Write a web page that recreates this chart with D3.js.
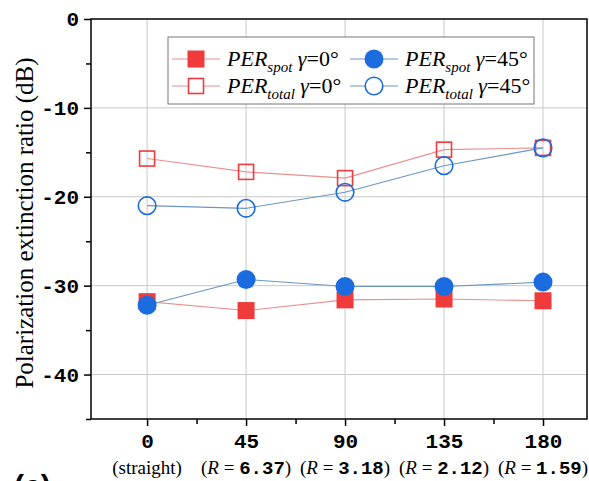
<!DOCTYPE html>
<html>
<head>
<meta charset="utf-8">
<script src="https://cdn.jsdelivr.net/npm/d3@7"></script>
<style>
body { margin: 0; background: #fff; }
svg { display: block; }
</style>
</head>
<body>
<svg id="chart"></svg>
<script>
// angle values on the x axis
var angles = [0, 45, 90, 135, 180];
var bendLabels = ["(straight)", "6.37", "3.18", "2.12", "1.59"];
var yTicks = [0, -10, -20, -30, -40];

// PER values (dB)
var spot0 = [-31.8, -32.8, -31.6, -31.5, -31.7];
var spot45 = [-32.2, -29.3, -30.1, -30.1, -29.6];
var total0 = [-15.7, -17.2, -17.9, -14.7, -14.5];
var total45 = [-21.0, -21.3, -19.5, -16.5, -14.5];

var width = 589, height = 481;
var mLeft = 91, mRight = 587, mTop = 19, mBottom = 419;

var red = "#ef3b3b", blue = "#1b6ddf";
var redLine = "#e99090", blueLine = "#6a96c4";

var svg = d3.select("#chart").attr("width", width).attr("height", height);

var x = d3.scaleLinear().domain([-25.5, 200]).range([mLeft, mRight]);
var y = d3.scaleLinear().domain([-45, 0]).range([mBottom, mTop]);

// grid
svg.append("g").selectAll("line").data(angles).enter().append("line")
    .attr("x1", function (d) { return x(d); }).attr("x2", function (d) { return x(d); })
    .attr("y1", mTop).attr("y2", mBottom)
    .attr("stroke", "#c8c8c8").attr("stroke-width", 1);
svg.append("g").selectAll("line").data([-10, -20, -30, -40]).enter().append("line")
    .attr("x1", mLeft).attr("x2", mRight)
    .attr("y1", function (d) { return y(d); }).attr("y2", function (d) { return y(d); })
    .attr("stroke", "#c8c8c8").attr("stroke-width", 1);

// axes
var monoFont = "'Liberation Mono', 'DejaVu Sans Mono', monospace";
var yAxis = d3.axisLeft(y).tickValues(yTicks).tickSize(7).tickPadding(5).tickFormat(d3.format("d"));
var yMinor = d3.axisLeft(y).tickValues([-5, -15, -25, -35, -45]).tickSize(5).tickFormat("");
var xAxis = d3.axisBottom(x).tickValues(angles).tickSize(7).tickPadding(7);
var xMinor = d3.axisBottom(x).tickValues([22.5, 67.5, 112.5, 157.5]).tickSize(5).tickFormat("");

function styleAxis(g) {
    g.select(".domain").remove();
    g.selectAll("line").attr("stroke", "#000").attr("stroke-width", 1.5);
    g.selectAll("text").attr("font-family", monoFont).attr("font-weight", "bold")
        .attr("font-size", "21px").attr("fill", "#000");
}

svg.append("g").attr("transform", "translate(" + mLeft + ",0)").call(yAxis).call(styleAxis)
    .selectAll("text").text(function (d) { return d === 0 ? "0" : "-" + Math.abs(d); });
svg.append("g").attr("transform", "translate(" + mLeft + ",0)").call(yMinor).call(styleAxis);
svg.append("g").attr("transform", "translate(0," + mBottom + ")").call(xAxis).call(styleAxis);
svg.append("g").attr("transform", "translate(0," + mBottom + ")").call(xMinor).call(styleAxis);

// frame
svg.append("rect").attr("x", mLeft).attr("y", mTop)
    .attr("width", mRight - mLeft).attr("height", mBottom - mTop)
    .attr("fill", "none").attr("stroke", "#000").attr("stroke-width", 1.5);

// bend radius labels
var serif = "'Liberation Serif', 'Times New Roman', serif";
var bl = svg.append("g");
bendLabels.forEach(function (lab, i) {
    var t = bl.append("text").attr("x", x(angles[i])).attr("y", 474)
        .attr("text-anchor", "middle").attr("font-size", "19px").attr("font-family", serif);
    if (i === 0) {
        t.text(lab);
    } else {
        t.append("tspan").text("(");
        t.append("tspan").attr("font-style", "italic").text("R");
        t.append("tspan").text(" = ");
        t.append("tspan").attr("font-family", monoFont).attr("font-weight", "bold").text(lab);
        t.append("tspan").text(")");
    }
});

// y title
svg.append("text").attr("transform", "translate(33,223) rotate(-90)")
    .attr("text-anchor", "middle").attr("font-family", serif).attr("font-size", "25px")
    .text("Polarization extinction ratio (dB)");

// panel label, cut at bottom edge as in the source figure
svg.append("text").attr("x", 14).attr("y", 496)
    .attr("font-family", "'Liberation Sans', Arial, sans-serif").attr("font-weight", "bold")
    .attr("font-size", "30px").text("(c)");

// series
var line = d3.line().x(function (d, i) { return x(angles[i]); }).y(function (d) { return y(d); });

function drawLine(vals, color) {
    svg.append("path").datum(vals).attr("d", line)
        .attr("fill", "none").attr("stroke", color).attr("stroke-width", 1.1);
}
function drawSquares(vals, filled) {
    var s = filled ? 17 : 15;
    svg.append("g").selectAll("rect").data(vals).enter().append("rect")
        .attr("x", function (d, i) { return x(angles[i]) - s / 2; })
        .attr("y", function (d) { return y(d) - s / 2; })
        .attr("width", s).attr("height", s)
        .attr("fill", filled ? red : "none")
        .attr("stroke", filled ? "none" : red).attr("stroke-width", 1.6);
}
function drawCircles(vals, filled) {
    svg.append("g").selectAll("circle").data(vals).enter().append("circle")
        .attr("cx", function (d, i) { return x(angles[i]); })
        .attr("cy", function (d) { return y(d); })
        .attr("r", filled ? 9.5 : 8.8)
        .attr("fill", filled ? blue : "none")
        .attr("stroke", filled ? "none" : blue).attr("stroke-width", 1.6);
}

drawLine(total0, redLine);
drawSquares(total0, false);
drawLine(spot0, redLine);
drawSquares(spot0, true);
drawLine(total45, blueLine);
drawCircles(total45, false);
drawLine(spot45, blueLine);
drawCircles(spot45, true);

// legend
var lg = svg.append("g");
lg.append("rect").attr("x", 168).attr("y", 37).attr("width", 366).attr("height", 67)
    .attr("fill", "#fff").attr("stroke", "#777").attr("stroke-width", 1);

var legendItems = [
    { sub: "spot", g: "0°", color: red, lc: redLine, shape: "sq", filled: true, cx: 196, cy: 59 },
    { sub: "spot", g: "45°", color: blue, lc: blueLine, shape: "ci", filled: true, cx: 374, cy: 59 },
    { sub: "total", g: "0°", color: red, lc: redLine, shape: "sq", filled: false, cx: 196, cy: 86 },
    { sub: "total", g: "45°", color: blue, lc: blueLine, shape: "ci", filled: false, cx: 374, cy: 86 }
];
legendItems.forEach(function (it) {
    lg.append("line").attr("x1", it.cx - 24).attr("x2", it.cx + 24)
        .attr("y1", it.cy).attr("y2", it.cy).attr("stroke", it.lc).attr("stroke-width", 1.1);
    if (it.shape === "sq") {
        var s = it.filled ? 17 : 15;
        lg.append("rect").attr("x", it.cx - s / 2).attr("y", it.cy - s / 2)
            .attr("width", s).attr("height", s)
            .attr("fill", it.filled ? it.color : "#fff")
            .attr("stroke", it.filled ? "none" : it.color).attr("stroke-width", 1.6);
    } else {
        lg.append("circle").attr("cx", it.cx).attr("cy", it.cy).attr("r", it.filled ? 9.5 : 8.8)
            .attr("fill", it.filled ? it.color : "#fff")
            .attr("stroke", it.filled ? "none" : it.color).attr("stroke-width", 1.6);
    }
    var t = lg.append("text").attr("x", it.cx + 31).attr("y", it.cy + 7)
        .attr("font-family", serif).attr("font-size", "22px").attr("font-style", "italic");
    t.append("tspan").text("PER");
    t.append("tspan").attr("dy", 6).attr("font-size", "15px").text(it.sub);
    t.append("tspan").attr("dy", -6).text(" γ");
    t.append("tspan").attr("font-style", "normal").text("=" + it.g);
});
</script>
</body>
</html>
